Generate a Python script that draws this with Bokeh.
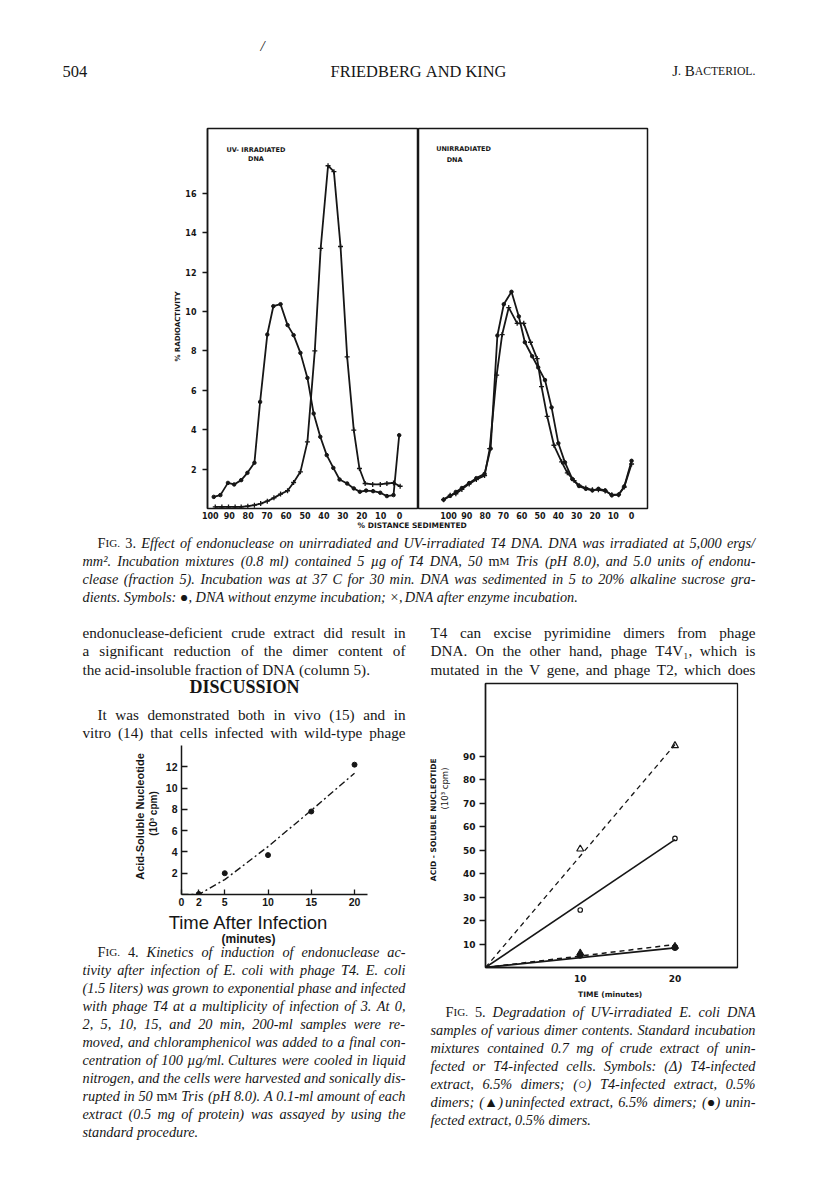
import math
from bokeh.plotting import figure
from bokeh.models import Range1d, FixedTicker
from bokeh.layouts import column, row
from bokeh.core.properties import value
from bokeh.embed import file_html
from bokeh.resources import INLINE

INK = "#161616"
SERIF = "Liberation Serif"
SANS = "Liberation Sans"
GOTH = "DejaVu Sans"
DY = -5.5   # baseline correction for running text

# ======================= DATA =======================
# Fig. 3 left panel: UV-irradiated DNA (% distance sedimented, % radioactivity)
uv_noenz_dist = [98.2, 94.7, 90.7, 87.4, 83.7, 80.4, 76.7, 73.7, 69.9, 66.7, 62.9, 59.2, 56.0, 52.4, 48.7,
                 45.4, 41.9, 38.5, 35.0, 31.7, 27.7, 24.2, 21.0, 17.7, 14.0, 10.2, 6.7, 3.2, 0.2]
uv_noenz_pct = [0.59, 0.68, 1.30, 1.22, 1.44, 1.81, 2.32, 5.41, 8.83, 10.27, 10.37, 9.31, 8.80, 7.90, 6.63,
                4.82, 3.64, 2.71, 2.06, 1.47, 1.27, 1.02, 0.85, 0.91, 0.88, 0.80, 0.63, 0.68, 3.72]
uv_enz_dist = [97.4, 93.9, 90.4, 86.9, 83.7, 80.2, 76.7, 73.4, 69.9, 66.4, 62.9, 59.2, 56.0, 52.4, 48.7,
               44.8, 41.7, 37.8, 34.7, 31.2, 27.7, 24.2, 21.2, 18.2, 14.2, 10.2, 6.7, 3.2, -0.3]
uv_enz_pct = [0.08, 0.08, 0.08, 0.08, 0.08, 0.12, 0.17, 0.25, 0.37, 0.54, 0.73, 0.90, 1.32, 1.86, 3.38,
              8.0, 13.2, 17.4, 17.1, 13.3, 7.7, 3.98, 2.03, 1.27, 1.22, 1.22, 1.27, 1.30, 1.13]
# Fig. 3 right panel: unirradiated DNA
un_noenz_dist = [102.7, 99.1, 96.0, 92.7, 88.7, 84.8, 80.3, 77.0, 73.3, 69.8, 65.6, 61.6, 58.3, 54.3, 51.0,
                 47.3, 43.7, 40.0, 36.4, 32.4, 28.7, 25.0, 21.4, 18.1, 14.4, 10.8, 7.1, 4.0, 0.0]
un_noenz_pct = [0.45, 0.64, 0.84, 1.04, 1.29, 1.54, 1.76, 3.04, 8.78, 10.37, 11.0, 9.75, 8.44, 7.73, 7.16,
                6.52, 5.13, 3.31, 2.34, 1.50, 1.14, 1.00, 0.92, 1.00, 0.92, 0.67, 0.70, 1.12, 2.42]
un_enz_dist = [102.7, 99.1, 96.0, 92.7, 88.7, 84.8, 80.3, 77.5, 73.7, 70.7, 67.1, 62.5, 58.9, 55.2, 51.6,
               49.2, 46.1, 42.4, 38.2, 35.1, 31.4, 28.7, 25.0, 21.4, 18.1, 14.4, 10.8, 7.1, 4.0, 0.0]
un_enz_pct = [0.45, 0.67, 0.75, 0.97, 1.25, 1.47, 1.67, 3.04, 6.77, 8.83, 10.2, 9.4, 9.4, 8.44, 7.61,
              6.19, 4.68, 3.21, 2.37, 1.81, 1.42, 1.17, 1.04, 0.95, 0.95, 0.89, 0.70, 0.70, 1.09, 2.26]
dist_ticks = [100, 90, 80, 70, 60, 50, 40, 30, 20, 10, 0]
pct_ticks = [2, 4, 6, 8, 10, 12, 14, 16]

# Fig. 4: time after infection (min) vs acid-soluble nucleotide (10^3 cpm)
f4_time = [2, 5, 10, 15, 20]
f4_acid = [0.05, 2.0, 3.7, 7.8, 12.2]
f4_fit_time = [0, 2, 5, 10, 15, 20]
f4_fit_acid = [0.0, 0.0, 1.4, 4.5, 7.9, 11.4]
f4_xticks = [0, 2, 5, 10, 15, 20]
f4_yticks = [2, 4, 6, 8, 10, 12]

# Fig. 5: time (min) vs acid-soluble nucleotide (10^3 cpm)
f5_time = [10, 20]
f5_t4_65 = [50.5, 94.5]   # open triangles
f5_t4_05 = [24.5, 55.0]   # open circles
f5_un_65 = [6.2, 9.0]     # filled triangles
f5_un_05 = [5.2, 8.5]     # filled circles
f5_fit_time = [0, 20]
f5_fit_t4_65 = [0, 95.0]
f5_fit_t4_05 = [0, 54.5]
f5_fit_un_65 = [0, 9.8]
f5_fit_un_05 = [0, 8.4]
f5_xticks = [10, 20]
f5_yticks = [10, 20, 30, 40, 50, 60, 70, 80, 90]

# ======================= text metrics (Times-compatible) =======================
LOW = "abcdefghijklmnopqrstuvwxyz"
UPP = LOW.upper()
PUN = {" ": 250, ".": 250, ",": 250, "-": 333, "(": 333, ")": 333, "/": 278, "%": 833, ":": 278,
       ";": 278, "\u00b5": 500, "\u00b2": 300, "\u2081": 300, "\u00d7": 564, "\u25cf": 604,
       "\u25b2": 770, "\u0394": 612, "\u25cb": 604}


def _mk(lower, upper, extra):
    d = {c: w for c, w in zip(LOW, lower)}
    d.update({c: w for c, w in zip(UPP, upper)})
    d.update({str(i): 500 for i in range(10)})
    d.update(extra)
    return d


WID = {
    "rm": _mk([444, 500, 444, 500, 444, 333, 500, 500, 278, 278, 500, 278, 778, 500, 500, 500, 500, 333, 389, 278,
               500, 500, 722, 500, 500, 444],
              [722, 667, 667, 722, 611, 556, 722, 722, 333, 389, 722, 611, 889, 722, 722, 556, 722, 667, 556, 611,
               722, 722, 944, 722, 722, 611], PUN),
    "it": _mk([500, 500, 444, 500, 444, 278, 500, 500, 278, 278, 444, 278, 722, 500, 500, 500, 500, 389, 389, 278,
               500, 444, 667, 444, 444, 389],
              [611, 611, 667, 722, 611, 611, 722, 722, 333, 444, 667, 556, 833, 667, 722, 611, 722, 611, 500, 556,
               722, 611, 833, 611, 556, 556], dict(PUN, **{":": 333, ";": 333})),
    "bd": _mk([500, 556, 444, 556, 444, 333, 500, 556, 278, 333, 556, 278, 833, 556, 500, 556, 556, 444, 389, 333,
               556, 500, 722, 500, 500, 444],
              [722, 667, 722, 722, 667, 611, 778, 778, 389, 500, 778, 667, 944, 722, 778, 611, 778, 722, 556, 667,
               722, 722, 1000, 722, 722, 667], PUN),
}
SC = 0.78
STY = {"rm": "normal", "it": "italic", "bd": "bold"}


def parse(txt, base):
    out = []
    for t in txt.split(" "):
        if not t:
            continue
        st = base
        if t[0] == "~":
            st, t = "rm", t[1:]
        elif t[0] == "^":
            st, t = "sc", t[1:]
        elif t[0] == "*":
            st, t = "bd", t[1:]
        out.append((t, st))
    return out


def tok_w(t, st):
    if st == "sc":
        return (WID["rm"].get(t[0], 500) + SC * sum(WID["rm"].get(c, 500) for c in t[1:])) / 1000.0
    return sum(WID[st].get(c, 500) for c in t) / 1000.0


def fit_size(specs, base, nominal):
    s = nominal
    for txt, x0, x1, just in specs:
        if not just:
            continue
        toks = parse(txt, base)
        nat = sum(tok_w(t, st) for t, st in toks) + 0.2 * (len(toks) - 1)
        s = min(s, (x1 - x0) / nat)
    return round(s, 2)


class TextCanvas:
    def __init__(self, x0, y0, x1, y1):
        self.p = figure(width=x1 - x0, height=y1 - y0,
                        x_range=Range1d(x0, x1), y_range=Range1d(y1, y0),
                        x_axis_type=None, y_axis_type=None,
                        toolbar_location=None, output_backend="svg",
                        min_border=0, outline_line_color=None, frame_align=False)
        self.groups = {}

    def put(self, x, y, t, style, size, font=SERIF, align="left", baseline="alphabetic", angle=0.0):
        key = (font, style, round(size, 2), align, baseline, angle)
        g = self.groups.setdefault(key, ([], [], []))
        g[0].append(x)
        g[1].append(y + (DY if baseline == "alphabetic" else 0))
        g[2].append(t)

    def line(self, txt, x0, x1, y, size, base="rm", justify=True, align="left"):
        toks = parse(txt, base)
        ws = [tok_w(t, st) * size for t, st in toks]
        n = len(toks) - 1
        gap = 0.25 * size
        if justify and n > 0:
            gap = (x1 - x0 - sum(ws)) / n
        total = sum(ws) + gap * n
        if align == "center":
            x = (x0 + x1) / 2.0 - total / 2.0
        elif align == "right":
            x = x1 - total
        else:
            x = x0
        for (t, st), w in zip(toks, ws):
            if st == "sc":
                w0 = WID["rm"].get(t[0], 500) / 1000.0 * size
                self.put(x, y, t[0], "normal", size)
                if len(t) > 1:
                    self.put(x + w0, y, t[1:], "normal", size * SC)
            else:
                self.put(x, y, t, STY[st], size)
            x += w + gap

    def block(self, specs, baselines, size, base):
        for (txt, x0, x1, just), y in zip(specs, baselines):
            self.line(txt, x0, x1, y, size, base=base, justify=just)

    def done(self):
        for (font, style, size, align, baseline, angle), (xs, ys, ts) in self.groups.items():
            self.p.text(x=xs, y=ys, text=ts, text_font=value(font), text_font_style=style,
                        text_font_size=f"{size}px", text_align=align, angle=angle,
                        text_baseline=baseline, text_color=INK)
        return self.p


def axis_style(ax, font, size, style="bold", tin=0, tout=0, standoff=3, line=True):
    ax.major_label_text_font = font
    ax.major_label_text_font_size = f"{size}px"
    ax.major_label_text_font_style = style
    ax.major_label_text_color = INK
    ax.major_label_standoff = standoff
    ax.major_tick_in = tin
    ax.major_tick_out = tout
    ax.major_tick_line_color = INK
    ax.major_tick_line_width = 1.3
    ax.minor_tick_line_color = None
    ax.axis_line_color = INK if line else None
    ax.axis_line_width = 1.5
    ax.axis_label_text_color = INK


def chart(**kw):
    p = figure(toolbar_location=None, output_backend="svg", frame_align=False, **kw)
    p.grid.visible = False
    p.background_fill_color = "white"
    p.border_fill_color = "white"
    return p


HALF_PI = math.pi / 2

# ======================= HEADER =======================
hdr = TextCanvas(0, 0, 816, 122)
hdr.line("/", 260, 300, 51, 15, base="it", justify=False)
hdr.line("504", 62, 200, 76, 16.5, justify=False)
hdr.line("FRIEDBERG AND KING", 218, 618, 76, 16.4, justify=False, align="center")
hdr.line("^J. ^BACTERIOL.", 600, 755, 76, 15, justify=False, align="right")

# ======================= FIG 3 =======================
Y3 = (0, 19.29)
f3lab = TextCanvas(0, 122, 182, 521)
f3lab.put(177, 326, "% RADIOACTIVITY", "bold", 7, font=GOTH, align="center", baseline="middle", angle=HALF_PI)

f3L = chart(width=236, height=399, x_range=Range1d(101.5, -10.0), y_range=Range1d(*Y3),
            min_border_left=24, min_border_right=0, min_border_top=6, min_border_bottom=13)
f3L.outline_line_color = INK
f3L.outline_line_width = 1.5
xa = f3L.xaxis[0]
xa.ticker = FixedTicker(ticks=dist_ticks)
axis_style(xa, GOTH, 8, standoff=3, line=False)
ya = f3L.yaxis[0]
ya.ticker = FixedTicker(ticks=pct_ticks)
axis_style(ya, GOTH, 8, tout=5, standoff=6)

f3L.line(uv_noenz_dist, uv_noenz_pct, line_width=1.8, line_color=INK)
f3L.scatter(uv_noenz_dist, uv_noenz_pct, marker="circle", size=3.5, color=INK)
f3L.line(uv_enz_dist, uv_enz_pct, line_width=1.8, line_color=INK)
f3L.scatter(uv_enz_dist, uv_enz_pct, marker="cross", size=5, line_width=1.3, color=INK)
f3L.text(x=[75.9, 75.9], y=[18.22, 17.72], text=["UV- IRRADIATED", "DNA"], text_align="center",
         text_baseline="middle", text_font=value(GOTH), text_font_style="bold",
         text_font_size="6.5px", text_color=INK)

f3R = chart(width=398, height=399, x_range=Range1d(116.4, -8.7), y_range=Range1d(*Y3),
            y_axis_location=None,
            min_border_left=0, min_border_right=169, min_border_top=6, min_border_bottom=13)
f3R.outline_line_color = INK
f3R.outline_line_width = 1.5
xb = f3R.xaxis[0]
xb.ticker = FixedTicker(ticks=dist_ticks)
axis_style(xb, GOTH, 8, standoff=3, line=False)
f3R.line(un_noenz_dist, un_noenz_pct, line_width=1.8, line_color=INK)
f3R.scatter(un_noenz_dist, un_noenz_pct, marker="circle", size=3.5, color=INK)
f3R.line(un_enz_dist, un_enz_pct, line_width=1.8, line_color=INK)
f3R.scatter(un_enz_dist, un_enz_pct, marker="cross", size=5, line_width=1.3, color=INK)
f3R.text(x=[91.8, 96.7], y=[18.26, 17.7], text=["UNIRRADIATED", "DNA"], text_align="center",
         text_baseline="middle", text_font=value(GOTH), text_font_style="bold",
         text_font_size="6.5px", text_color=INK)

# ======================= TEXT BLOCKS =======================
cap3 = [
    ("^FIG. ~3. Effect of endonuclease on unirradiated and UV-irradiated T4 DNA. DNA was irradiated at 5,000 ergs/", 97, 755, True),
    ("mm\u00b2. Incubation mixtures (0.8 ml) contained 5 \u00b5g of T4 DNA, 50 ^mM Tris (pH 8.0), and 5.0 units of endonu-", 82, 755, True),
    ("clease (fraction 5). Incubation was at 37 C for 30 min. DNA was sedimented in 5 to 20% alkaline sucrose gra-", 82, 755, True),
    ("dients. Symbols: \u25cf, DNA without enzyme incubation; \u00d7, DNA after enzyme incubation.", 82, 755, False),
]
paraL = [
    ("endonuclease-deficient crude extract did result in", 82, 405, True),
    ("a significant reduction of the dimer content of", 82, 405, True),
    ("the acid-insoluble fraction of DNA (column 5).", 82, 405, False),
]
paraR = [
    ("T4 can excise pyrimidine dimers from phage", 430, 755, True),
    ("DNA. On the other hand, phage T4V\u2081, which is", 430, 755, True),
    ("mutated in the V gene, and phage T2, which does", 430, 755, True),
]
discL = [
    ("It was demonstrated both in vivo (15) and in", 97, 405, True),
    ("vitro (14) that cells infected with wild-type phage", 82, 405, True),
]
cap4 = [
    ("^FIG. ~4. Kinetics of induction of endonuclease ac-", 97, 405, True),
    ("tivity after infection of E. coli with phage T4. E. coli", 82, 405, True),
    ("(1.5 liters) was grown to exponential phase and infected", 82, 405, True),
    ("with phage T4 at a multiplicity of infection of 3. At 0,", 82, 405, True),
    ("2, 5, 10, 15, and 20 min, 200-ml samples were re-", 82, 405, True),
    ("moved, and chloramphenicol was added to a final con-", 82, 405, True),
    ("centration of 100 \u00b5g/ml. Cultures were cooled in liquid", 82, 405, True),
    ("nitrogen, and the cells were harvested and sonically dis-", 82, 405, True),
    ("rupted in 50 ^mM Tris (pH 8.0). A 0.1-ml amount of each", 82, 405, True),
    ("extract (0.5 mg of protein) was assayed by using the", 82, 405, True),
    ("standard procedure.", 82, 405, False),
]
cap5 = [
    ("^FIG. ~5. Degradation of UV-irradiated E. coli DNA", 445, 755, True),
    ("samples of various dimer contents. Standard incubation", 430, 755, True),
    ("mixtures contained 0.7 mg of crude extract of unin-", 430, 755, True),
    ("fected or T4-infected cells. Symbols: (\u0394) T4-infected", 430, 755, True),
    ("extract, 6.5% dimers; (\u25cb) T4-infected extract, 0.5%", 430, 755, True),
    ("dimers; (\u25b2) uninfected extract, 6.5% dimers; (\u25cf) unin-", 430, 755, True),
    ("fected extract, 0.5% dimers.", 430, 755, False),
]

body_size = fit_size(paraL + paraR + discL, "rm", 15.2)
cap_size = fit_size(cap3 + cap4 + cap5, "it", 14.3)

bandC = TextCanvas(0, 521, 816, 612)
bandC.put(413, 530, "% DISTANCE  SEDIMENTED", "bold", 7.5, font=GOTH, align="center")
bandC.block(cap3, [548, 566, 584, 602], cap_size, "it")

tL1 = TextCanvas(0, 612, 418, 742)
tL1.block(paraL, [637, 655.5, 674], body_size, "rm")
tL1.line("*DISCUSSION", 144, 344, 691.5, 18, justify=False, align="center")
tL1.block(discL, [719, 737], body_size, "rm")

tR1 = TextCanvas(418, 612, 816, 680)
tR1.block(paraR, [637, 655.5, 674], body_size, "rm")

# ======================= FIG 4 =======================
f4lab = TextCanvas(0, 742, 162, 912)
f4lab.put(139, 816, "Acid-Soluble Nucleotide", "bold", 11, font=SANS, align="center", baseline="middle", angle=HALF_PI)
f4lab.put(153, 813, "(10\u00b3 cpm)", "bold", 10, font=SANS, align="center", baseline="middle", angle=HALF_PI)

f4 = chart(width=256, height=170, x_range=Range1d(0, 21.5), y_range=Range1d(0, 14.0),
           min_border_left=18, min_border_right=51, min_border_top=3, min_border_bottom=18)
f4.outline_line_color = None
x4 = f4.xaxis[0]
x4.ticker = FixedTicker(ticks=f4_xticks)
axis_style(x4, SANS, 10.5, tin=5, standoff=3)
y4 = f4.yaxis[0]
y4.ticker = FixedTicker(ticks=f4_yticks)
axis_style(y4, SANS, 10.5, tin=6, standoff=4)
f4.line(f4_fit_time, f4_fit_acid, line_width=1.4, line_color=INK, line_dash="7 3 2 3")
f4.scatter(f4_time, f4_acid, marker="circle", size=5, color=INK)

tL2 = TextCanvas(0, 912, 418, 1184)
tL2.put(248, 922, "Time After Infection", "normal", 18.5, font=SANS, align="center", baseline="middle")
tL2.put(248, 938, "(minutes)", "bold", 12, font=SANS, align="center", baseline="middle")
tL2.block(cap4, [957 + 18 * k for k in range(len(cap4))], cap_size, "it")

# ======================= FIG 5 =======================
f5lab = TextCanvas(418, 680, 458, 1003)
f5lab.put(433, 818, "ACID - SOLUBLE  NUCLEOTIDE", "bold", 7.5, font=GOTH, align="center", baseline="middle", angle=HALF_PI)
f5lab.put(444, 788, "(10\u00b3 cpm)", "normal", 8.5, font=GOTH, align="center", baseline="middle", angle=HALF_PI)

f5 = chart(width=358, height=323, x_range=Range1d(0, 26.6), y_range=Range1d(0, 121),
           min_border_left=27, min_border_right=79, min_border_top=3, min_border_bottom=36)
f5.outline_line_color = INK
f5.outline_line_width = 1.3
x5 = f5.xaxis[0]
x5.ticker = FixedTicker(ticks=f5_xticks)
axis_style(x5, GOTH, 9, standoff=7)
x5.axis_label = "TIME  (minutes)"
x5.axis_label_text_font = GOTH
x5.axis_label_text_font_size = "7.5px"
x5.axis_label_text_font_style = "bold"
x5.axis_label_standoff = 5
y5 = f5.yaxis[0]
y5.ticker = FixedTicker(ticks=f5_yticks)
axis_style(y5, GOTH, 9, tout=6, standoff=4)

f5.line(f5_fit_time, f5_fit_t4_65, line_width=1.3, line_color=INK, line_dash="5 4")
f5.line(f5_fit_time, f5_fit_t4_05, line_width=1.6, line_color=INK)
f5.line(f5_fit_time, f5_fit_un_65, line_width=1.5, line_color=INK, line_dash="5 4")
f5.line(f5_fit_time, f5_fit_un_05, line_width=1.8, line_color=INK)
f5.scatter(f5_time, f5_t4_65, marker="triangle", size=7, fill_color=None, line_color=INK, line_width=1.2)
f5.scatter(f5_time, f5_t4_05, marker="circle", size=4.5, fill_color=None, line_color=INK, line_width=1.2)
f5.scatter(f5_time, f5_un_65, marker="triangle", size=7, color=INK)
f5.scatter(f5_time, f5_un_05, marker="circle", size=6, color=INK)

tR2 = TextCanvas(418, 1003, 816, 1184)
tR2.block(cap5, [1017 + 18 * k for k in range(len(cap5))], cap_size, "it")

# ======================= LAYOUT =======================
page = column(
    hdr.done(),
    row(f3lab.done(), f3L, f3R, spacing=0),
    bandC.done(),
    row(column(tL1.done(), row(f4lab.done(), f4, spacing=0), tL2.done(), spacing=0),
        column(tR1.done(), row(f5lab.done(), f5, spacing=0), tR2.done(), spacing=0), spacing=0),
    spacing=0,
)

open("out.html", "w").write(file_html(page, INLINE))
